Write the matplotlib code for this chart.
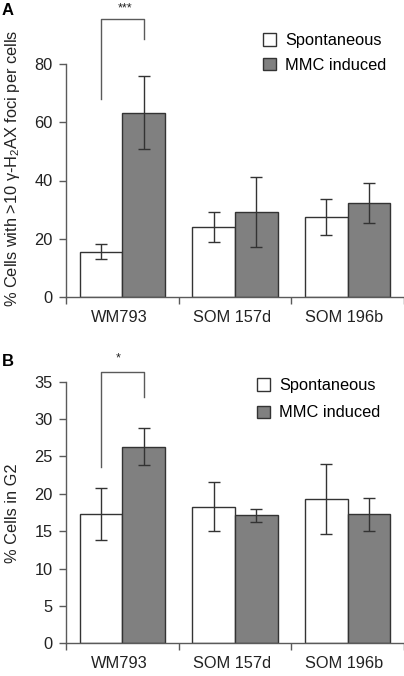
import numpy as np
import matplotlib
matplotlib.use("Agg")
import matplotlib.pyplot as plt
from matplotlib.patches import Patch

plt.rcParams['font.family'] = ['Liberation Sans', 'DejaVu Sans']
plt.rcParams['mathtext.fontset'] = 'custom'
plt.rcParams['mathtext.rm'] = 'Liberation Sans'
plt.rcParams['mathtext.it'] = 'Liberation Sans'

# data
groups = ['WM793', 'SOM 157d', 'SOM 196b']
series = ['Spontaneous', 'MMC induced']

foci_spont = [15.6, 24.0, 27.4]
foci_spont_err = [2.5, 5.2, 6.2]
foci_mmc = [63.3, 29.1, 32.3]
foci_mmc_err = [12.5, 12.0, 7.0]

g2_spont = [17.3, 18.3, 19.35]
g2_spont_err = [3.5, 3.3, 4.7]
g2_mmc = [26.3, 17.1, 17.25]
g2_mmc_err = [2.5, 0.85, 2.25]

SPINE = '#5a5a5a'
EDGE = '#333333'
GREY = '#808080'
FS = 11.8

fig = plt.figure(figsize=(4.04, 6.76), dpi=100)


def panel(rect, spont, spont_err, mmc, mmc_err, ymax, ystep, ylabel, label_y):
    ax = fig.add_axes(rect)
    x = np.arange(len(groups)) + 0.5
    w = 0.38
    ax.bar(x - w / 2, spont, w, color='white', edgecolor=EDGE, linewidth=1,
           label=series[0], zorder=2)
    ax.bar(x + w / 2, mmc, w, color=GREY, edgecolor=EDGE, linewidth=1,
           label=series[1], zorder=2)
    ax.errorbar(x - w / 2, spont, yerr=spont_err, fmt='none', ecolor=EDGE,
                elinewidth=1, capsize=4, capthick=1, zorder=3)
    ax.errorbar(x + w / 2, mmc, yerr=mmc_err, fmt='none', ecolor=EDGE,
                elinewidth=1, capsize=4, capthick=1, zorder=3)

    ax.set_xlim(0, 3)
    ax.set_ylim(0, ymax)
    ax.set_yticks(np.arange(0, ymax + 0.1, ystep))
    ax.set_xticks(x - 0.03)
    ax.set_xticklabels(groups)
    ax.set_xticks([0, 1, 2, 3], minor=True)
    ax.tick_params(axis='x', which='major', length=0, pad=9, labelsize=FS)
    ax.tick_params(axis='x', which='minor', length=5, width=1, color=SPINE)
    ax.tick_params(axis='y', length=5, width=1, color=SPINE, pad=4.5,
                   labelsize=FS, labelcolor='#222222')
    ax.tick_params(axis='x', labelcolor='#222222')
    for s in ['top', 'right']:
        ax.spines[s].set_visible(False)
    for s in ['left', 'bottom']:
        ax.spines[s].set_color(SPINE)
        ax.spines[s].set_linewidth(1)
    fig.text(13 / 404, label_y, ylabel, rotation=90, ha='center', va='center',
             fontsize=FS, color='#222222')
    return ax, x, w


def add_legend(ax, anchor, spacing):
    handles = [Patch(facecolor='white', edgecolor=EDGE, label=series[0]),
               Patch(facecolor=GREY, edgecolor=EDGE, label=series[1])]
    ax.legend(handles=handles, loc='upper left', bbox_to_anchor=anchor,
              bbox_transform=fig.transFigure, frameon=False, borderpad=0,
              handlelength=0.8, handleheight=0.8, handletextpad=0.55,
              labelspacing=spacing, fontsize=FS)


# panel A
axA, x, w = panel([66 / 404, 1 - 297 / 676, 338 / 404, 233 / 676],
                  foci_spont, foci_spont_err, foci_mmc, foci_mmc_err, 80, 20,
                  r'% Cells with >10 γ-H$_2$AX foci per cells', 1 - 168 / 676)
axA.plot([x[0] - w / 2, x[0] - w / 2, x[0] + w / 2, x[0] + w / 2],
         [68, 95.4, 95.4, 88.7], color=SPINE, lw=1, clip_on=False)
axA.text(0.52, 99, '***', ha='center', va='center', fontsize=9, color='#222222')
add_legend(axA, (255 / 404, 1 - 25 / 676), 0.57)
fig.text(2 / 404, 1 - 3 / 676, 'A', fontsize=12, fontweight='bold', va='top')

# panel B
axB, x, w = panel([66 / 404, 1 - 643.3 / 676, 338 / 404, 261.6 / 676],
                  g2_spont, g2_spont_err, g2_mmc, g2_mmc_err, 35, 5,
                  '% Cells in G2', 1 - 513 / 676)
axB.plot([x[0] - w / 2, x[0] - w / 2, x[0] + w / 2, x[0] + w / 2],
         [23.6, 36.25, 36.25, 33], color=SPINE, lw=1, clip_on=False)
axB.text(0.46, 38.1, '*', ha='center', va='center', fontsize=9, color='#222222')
add_legend(axB, (249 / 404, 1 - 370 / 676), 0.75)
fig.text(2 / 404, 1 - 354 / 676, 'B', fontsize=12, fontweight='bold', va='top')

fig.savefig('out.png', dpi=100)
